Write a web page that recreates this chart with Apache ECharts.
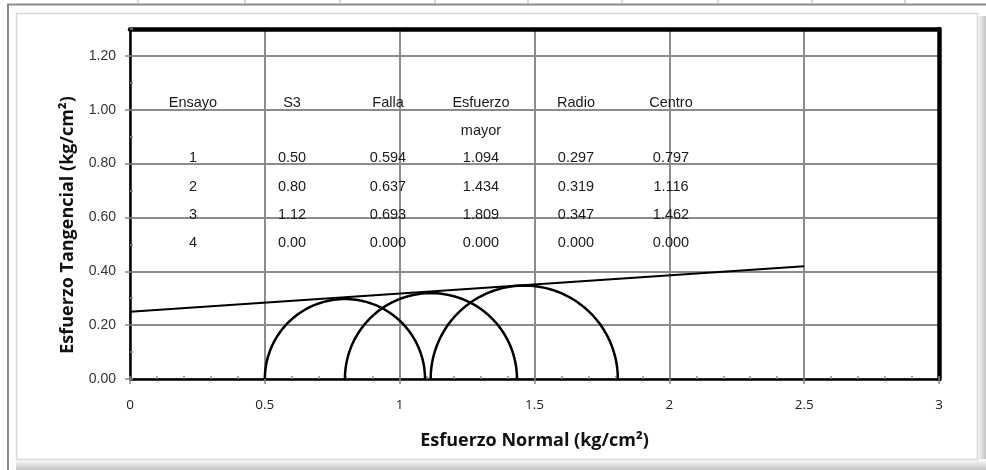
<!DOCTYPE html>
<html>
<head>
<meta charset="utf-8">
<script src="https://cdn.jsdelivr.net/npm/echarts@6/dist/echarts.min.js"></script>
<style>
html,body{margin:0;padding:0;background:#fff;}
#chart{width:986px;height:470px;}
</style>
</head>
<body>
<div id="chart"></div>
<script>
// ---- data ----
var ensayo = ['1', '2', '3', '4'];
var s3 = [0.50, 0.80, 1.12, 0.00];
var falla = [0.594, 0.637, 0.693, 0.000];
var esfuerzoMayor = [1.094, 1.434, 1.809, 0.000];
var radio = [0.297, 0.319, 0.347, 0.000];
var centro = [0.797, 1.116, 1.462, 0.000];
var envolventeX = [0, 2.5];
var envolventeY = [0.25, 0.419];
var xTicks = [0, 0.5, 1, 1.5, 2, 2.5, 3];
var yTicks = [0, 0.2, 0.4, 0.6, 0.8, 1.0, 1.2];

var chart = echarts.init(document.getElementById('chart'), null, {renderer: 'canvas'});

var circleData = [];
for (var i = 0; i < centro.length; i++) {
  if (radio[i] > 0) circleData.push([centro[i], radio[i]]);
}
var lineData = envolventeX.map(function (x, i) { return [x, envolventeY[i]]; });

// table as text
var tableFont = '14.5px "Liberation Sans", Arial, sans-serif';
var colX = [193, 292, 388, 481, 576, 671];
var rowY = [158, 187, 215, 243];
var headers = ['Ensayo', 'S3', 'Falla', 'Esfuerzo', 'Radio', 'Centro'];
var graphics = [];
function txt(x, y, s) {
  graphics.push({type: 'text', x: x, y: y, z: 5, style: {text: s, font: tableFont, fill: '#1a1a1a', textAlign: 'center', textVerticalAlign: 'middle'}});
}
headers.forEach(function (h, j) { txt(colX[j], 103, h); });
txt(colX[3], 131, 'mayor');
for (var r = 0; r < ensayo.length; r++) {
  txt(colX[0], rowY[r], ensayo[r]);
  txt(colX[1], rowY[r], s3[r].toFixed(2));
  txt(colX[2], rowY[r], falla[r].toFixed(3));
  txt(colX[3], rowY[r], esfuerzoMayor[r].toFixed(3));
  txt(colX[4], rowY[r], radio[r].toFixed(3));
  txt(colX[5], rowY[r], centro[r].toFixed(3));
}
// frame decorations
graphics.push({type: 'line', z: 1, shape: {x1: 7, y1: 4.5, x2: 986, y2: 4.5}, style: {stroke: '#8a8a8a', lineWidth: 2}});
graphics.push({type: 'line', z: 1, shape: {x1: 8, y1: 4, x2: 8, y2: 470}, style: {stroke: '#8a8a8a', lineWidth: 2}});
[138, 245, 340, 435, 528, 622, 718, 812, 905].forEach(function (x) {
  graphics.push({type: 'line', z: 1, shape: {x1: x, y1: 0, x2: x, y2: 4}, style: {stroke: '#b0b0b0', lineWidth: 1}});
});
graphics.push({type: 'rect', z: 1, shape: {x: 16.5, y: 13.5, width: 961, height: 446}, style: {fill: 'none', stroke: '#d8d8d8', lineWidth: 1.5}});
graphics.push({type: 'rect', z: 0, shape: {x: 977, y: 16, width: 9, height: 454}, style: {fill: new echarts.graphic.LinearGradient(0, 0, 1, 0, [{offset: 0, color: '#ffffff'}, {offset: 1, color: '#c4c4c4'}])}});
graphics.push({type: 'rect', z: 0, shape: {x: 16, y: 459, width: 970, height: 11}, style: {fill: new echarts.graphic.LinearGradient(0, 0, 0, 1, [{offset: 0, color: '#ffffff'}, {offset: 1, color: '#c4c4c4'}])}});

var gridLine = {show: true, lineStyle: {color: '#8c8c8c', width: 2}};

var option = {
  backgroundColor: '#ffffff',
  animation: false,
  grid: {left: 130, right: 47, top: 29, bottom: 91, containLabel: false},
  graphic: graphics,
  xAxis: [
    {
      type: 'value', min: 0, max: 3, interval: 0.5, position: 'bottom',
      name: 'Esfuerzo Normal (kg/cm²)', nameLocation: 'middle', nameGap: 53,
      nameTextStyle: {fontFamily: '"Open Sans", sans-serif', fontWeight: 'bold', fontSize: 18, color: '#111'},
      axisLine: {show: true, onZero: false, lineStyle: {color: '#000', width: 2.5}},
      axisTick: {show: true, length: 5, lineStyle: {color: '#888', width: 1.5}},
      axisLabel: {
        margin: 19, fontFamily: '"Open Sans", sans-serif', fontSize: 13.5, color: '#222',
        formatter: function (v) { return xTicks.indexOf(v) >= 0 ? String(v) : ''; }
      },
      splitLine: gridLine
    },
    {
      type: 'value', min: 0, max: 3, interval: 0.5, position: 'top',
      axisLine: {show: true, onZero: false, lineStyle: {color: '#000', width: 4.5}},
      axisTick: {show: false}, axisLabel: {show: false}, splitLine: {show: false}
    },
    {
      type: 'value', min: 0, max: 3, interval: 0.1, position: 'bottom',
      axisLine: {show: false, onZero: false},
      axisTick: {show: true, inside: true, length: 3, lineStyle: {color: '#888', width: 1.5}},
      axisLabel: {show: false}, splitLine: {show: false}
    }
  ],
  yAxis: [
    {
      type: 'value', min: 0, max: 1.3, interval: 0.2, position: 'left',
      name: 'Esfuerzo Tangencial (kg/cm²)', nameLocation: 'middle', nameGap: 53,
      nameTextStyle: {fontFamily: '"Open Sans", sans-serif', fontWeight: 'bold', fontSize: 18, color: '#111', padding: [0, 42, 0, 0]},
      axisLine: {show: true, onZero: false, lineStyle: {color: '#000', width: 2.5}},
      axisTick: {show: true, length: 5, lineStyle: {color: '#888', width: 1.5}},
      axisLabel: {
        margin: 14, showMaxLabel: false, fontFamily: '"Liberation Sans", Arial, sans-serif', fontSize: 14, color: '#333',
        formatter: function (v) {
          for (var k = 0; k < yTicks.length; k++) { if (Math.abs(yTicks[k] - v) < 1e-6) return yTicks[k].toFixed(2); }
          return '';
        }
      },
      splitLine: gridLine
    },
    {
      type: 'value', min: 0, max: 1.3, interval: 0.2, position: 'right',
      axisLine: {show: true, onZero: false, lineStyle: {color: '#000', width: 4.5}},
      axisTick: {show: false}, axisLabel: {show: false}, splitLine: {show: false}
    },
    {
      type: 'value', min: 0, max: 1.3, interval: 0.1, position: 'left',
      axisLine: {show: false, onZero: false},
      axisTick: {show: true, inside: true, length: 3, lineStyle: {color: '#888', width: 1.5}},
      axisLabel: {show: false}, splitLine: {show: false}
    }
  ],
  series: [
    {
      name: 'Envolvente', type: 'line', xAxisIndex: 0, yAxisIndex: 0,
      data: lineData, symbol: 'none', z: 4,
      lineStyle: {color: '#000', width: 2}
    },
    {
      name: 'Círculos de Mohr', type: 'custom', xAxisIndex: 0, yAxisIndex: 0, z: 4,
      data: circleData,
      encode: {x: 0, y: 1},
      renderItem: function (params, api) {
        var c = api.value(0), rr = api.value(1);
        var pts = [];
        var n = 90;
        for (var k = 0; k <= n; k++) {
          var t = Math.PI * k / n;
          pts.push(api.coord([c + rr * Math.cos(t), rr * Math.sin(t)]));
        }
        return {type: 'polyline', shape: {points: pts}, style: {stroke: '#000', lineWidth: 2.5, fill: null}};
      }
    }
  ]
};
chart.setOption(option);
</script>
</body>
</html>
